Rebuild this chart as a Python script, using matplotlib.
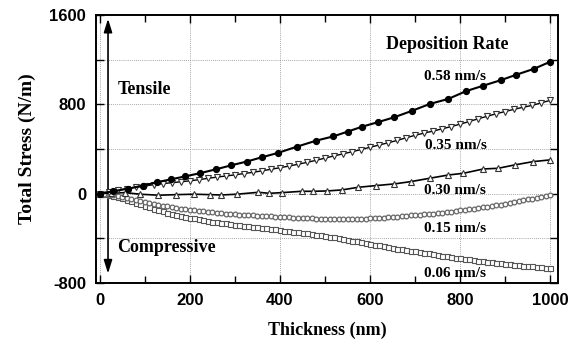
import numpy as np
import matplotlib.pyplot as plt
from matplotlib.ticker import MultipleLocator

# Data (thickness in nm, total stress in N/m)
x_058 = [0, 30, 63, 96, 126, 159, 190, 222, 258, 292, 326, 360, 395, 438, 481,
         518, 550, 583, 617, 654, 693, 733, 774, 813, 852, 890, 924, 964, 1000]
s_058 = [0, 22, 45, 72, 102, 129, 155, 183, 218, 254, 287, 326, 364, 421, 475,
         512, 555, 600, 639, 684, 741, 803, 848, 917, 967, 1015, 1063, 1117, 1180]

x_035 = np.arange(0, 1001, 20)
s_035 = [0, 15, 30, 45, 58, 70, 80, 90, 98, 106, 115, 125, 137, 148, 158, 168,
         180, 191, 204, 218, 232, 247, 263, 280, 298, 318, 338, 356, 375, 395,
         415, 435, 455, 476, 500, 522, 542, 560, 580, 600, 622, 645, 670, 692,
         715, 735, 755, 773, 790, 812, 835]

x_030 = [0, 25, 56, 89, 130, 169, 210, 244, 270, 304, 352, 376, 404, 448, 474,
         504, 537, 574, 613, 654, 691, 733, 774, 807, 852, 885, 921, 963, 1000]
s_030 = [0, 5, 9, -5, -14, -9, -5, -9, -12, -5, 12, 3, 9, 21, 21,
         24, 33, 57, 72, 87, 108, 138, 167, 182, 221, 227, 257, 287, 302]

x_015 = np.arange(0, 1001, 10)
s_015 = [0, -5, -10, -16, -22, -28, -37, -46, -56, -66, -75, -83, -91, -99, -107,
         -115, -121, -127, -133, -139, -145, -150, -155, -159, -164, -168, -172,
         -175, -178, -182, -185, -188, -190, -193, -195, -198, -200, -202, -204,
         -206, -208, -210, -212, -214, -216, -218, -220, -221, -223, -224, -226,
         -227, -228, -229, -230, -230, -229, -227, -225, -224, -222, -219, -216,
         -214, -211, -208, -205, -202, -198, -195, -192, -188, -185, -181, -178,
         -174, -169, -165, -160, -155, -150, -145, -140, -135, -129, -124, -118,
         -111, -105, -98, -92, -84, -76, -68, -60, -52, -44, -35, -27, -18, -10]

x_006 = np.arange(0, 1001, 10)
s_006 = [0, -6, -14, -22, -31, -40, -54, -68, -82, -96, -110, -122, -134, -146,
         -158, -170, -179, -188, -197, -206, -215, -222, -229, -236, -243, -250,
         -256, -261, -267, -272, -278, -282, -287, -291, -296, -300, -305, -310,
         -315, -320, -325, -330, -335, -340, -345, -350, -356, -361, -367, -372,
         -378, -385, -392, -398, -405, -412, -420, -427, -435, -442, -450, -457,
         -464, -471, -478, -485, -491, -497, -503, -509, -515, -522, -528, -535,
         -541, -548, -554, -560, -566, -572, -578, -583, -589, -594, -600, -605,
         -610, -615, -620, -625, -630, -634, -637, -641, -644, -648, -652, -656,
         -660, -664, -668]

rate_labels = ["0.58 nm/s", "0.35 nm/s", "0.30 nm/s", "0.15 nm/s", "0.06 nm/s"]
label_x = [789, 791, 789, 789, 789]
label_y = [1045, 427, 24, -316, -719]

serif = "Liberation Serif"
sans = "Liberation Sans"

fig = plt.figure(figsize=(5.81, 3.46), dpi=100)
ax = fig.add_axes([0.165, 0.182, 0.795, 0.775])

# series
ax.plot(x_006, s_006, ls="none", marker="s", ms=3.6, mfc="white", mec="#555555",
        mew=0.8, zorder=3)
ax.plot(x_015, s_015, ls="none", marker="o", ms=3.4, mfc="white", mec="#666666",
        mew=0.9, zorder=3)
ax.plot(x_030, s_030, color="black", lw=1.2, marker="^", ms=4.5, mfc="white",
        mec="#333333", mew=0.8, zorder=4)
ax.plot(x_035, s_035, color="black", lw=1.0, marker="v", ms=4.5, mfc="white",
        mec="#333333", mew=0.8, zorder=4)
ax.plot(x_058, s_058, color="black", lw=1.5, marker="o", ms=4.2, mfc="black",
        mec="black", zorder=5)

# tensile / compressive arrows
ax.annotate("", xy=(18, 1565), xytext=(18, 0), zorder=2,
            arrowprops=dict(arrowstyle="-|>,head_length=0.8,head_width=0.25",
                            color="black", lw=1.2, shrinkA=0, shrinkB=0))
ax.annotate("", xy=(18, -715), xytext=(18, 0), zorder=2,
            arrowprops=dict(arrowstyle="-|>,head_length=0.8,head_width=0.25",
                            color="black", lw=1.2, shrinkA=0, shrinkB=0))

ax.text(40, 928, "Tensile", family=serif, weight="bold", fontsize=13,
        ha="left", va="center")
ax.text(38, -486, "Compressive", family=serif, weight="bold", fontsize=13,
        ha="left", va="center")
ax.text(771, 1332, "Deposition Rate", family=serif, weight="bold", fontsize=13,
        ha="center", va="center")
for lab, lx, ly in zip(rate_labels, label_x, label_y):
    ax.text(lx, ly, lab, family=serif, weight="bold", fontsize=11,
            ha="center", va="center")

ax.set_xlim(-9, 1017)
ax.set_ylim(-800, 1600)
ax.xaxis.set_major_locator(MultipleLocator(200))
ax.xaxis.set_minor_locator(MultipleLocator(100))
ax.set_yticks([-800, -400, 0, 400, 800, 1200, 1600])
ax.set_yticklabels(["-800", "", "0", "", "800", "", "1600"])
ax.grid(True, which="major", ls=(0, (1, 1.5)), color="#888888", lw=0.6)
ax.tick_params(which="both", direction="in", top=True, right=True, width=1.0)
ax.tick_params(which="major", length=6, pad=7)
ax.tick_params(which="minor", length=5)
for t in ax.get_xticklabels() + ax.get_yticklabels():
    t.set_family(sans)
    t.set_fontweight("bold")
    t.set_fontsize(12)
for sp in ax.spines.values():
    sp.set_linewidth(1.4)

ax.set_xlabel("Thickness (nm)", family=serif, weight="bold", fontsize=13,
              labelpad=10)
ax.set_ylabel("Total Stress (N/m)", family=serif, weight="bold", fontsize=14,
              labelpad=10)

fig.savefig("out.png", dpi=100)
